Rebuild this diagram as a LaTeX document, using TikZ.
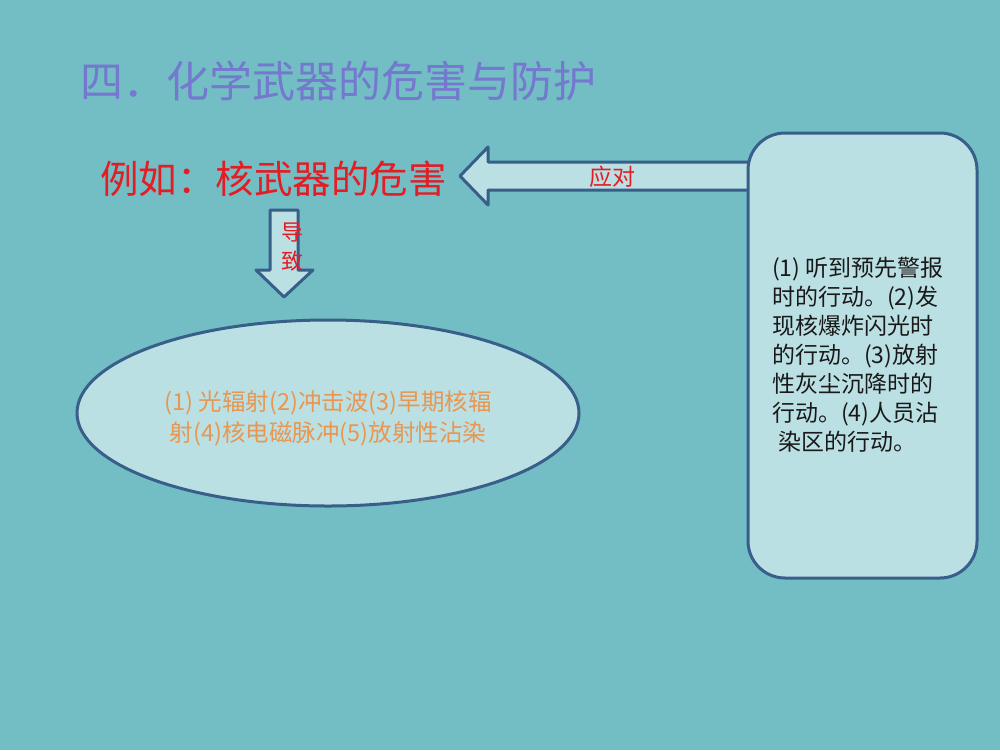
\documentclass[tikz,border=0pt]{standalone}
\usepackage{fontspec}
\setmainfont{Noto Sans CJK SC}
\usetikzlibrary{shapes.geometric}
\definecolor{bg}{RGB}{114,190,196}
\definecolor{boxfill}{RGB}{187,224,228}
\definecolor{edge}{RGB}{56,94,138}
\definecolor{titlec}{RGB}{116,120,206}
\definecolor{redc}{RGB}{228,28,36}
\definecolor{orangec}{RGB}{232,150,80}
\definecolor{darkc}{RGB}{25,25,25}
\begin{document}
\begin{tikzpicture}[x=1pt,y=-1pt,
  shapebox/.style={draw=edge, fill=boxfill, line width=3pt, line join=round},
  txt/.style={inner sep=0pt, align=center}]
\fill[bg] (0,0) rectangle (1000,750);
\useasboundingbox (0,0) rectangle (1000,750);
% title
\node[txt, anchor=west, text=titlec, font=\fontsize{43}{48}\selectfont] (title) at (80,81) {四．化学武器的危害与防护};
% main heading
\node[txt, anchor=west, text=redc, font=\fontsize{38.5}{44}\selectfont] (main) at (100,179) {例如：核武器的危害};
% left block arrow (response)
\draw[shapebox] (460,176) -- (488,147) -- (488,162) -- (750,162) -- (750,190) -- (488,190) -- (488,205) -- cycle;
\node[txt, text=redc, font=\fontsize{23}{26}\selectfont] (resplabel) at (612,177) {应对};
% down block arrow (causes)
\draw[shapebox] (270,210) -- (298,210) -- (298,270) -- (313,270) -- (284,297) -- (256,270) -- (270,270) -- cycle;
\node[txt, text=redc, font=\fontsize{22}{29}\selectfont] (causelabel) at (292,247) {导\\致};
% ellipse of effects
\node[shapebox, ellipse, minimum width=502pt, minimum height=186pt, inner sep=0pt] (eff) at (328,413) {};
\node[txt, text=orangec, font=\fontsize{23.5}{31}\selectfont] (efftext) at (328,418) {(1) 光辐射(2)冲击波(3)早期核辐\\射(4)核电磁脉冲(5)放射性沾染};
% rounded box of actions
\node[shapebox, rounded corners=37pt, minimum width=229pt, minimum height=445pt, inner sep=0pt] (act) at (862.5,355.5) {};
\node[inner sep=0pt, align=left, anchor=west, text=darkc, font=\fontsize{23}{29}\selectfont] (acttext) at (772,355) {(1) 听到预先警报\\时的行动。(2)发\\现核爆炸闪光时\\的行动。(3)放射\\性灰尘沉降时的\\行动。(4)人员沾\\\hspace*{6pt}染区的行动。};
\end{tikzpicture}
\end{document}
